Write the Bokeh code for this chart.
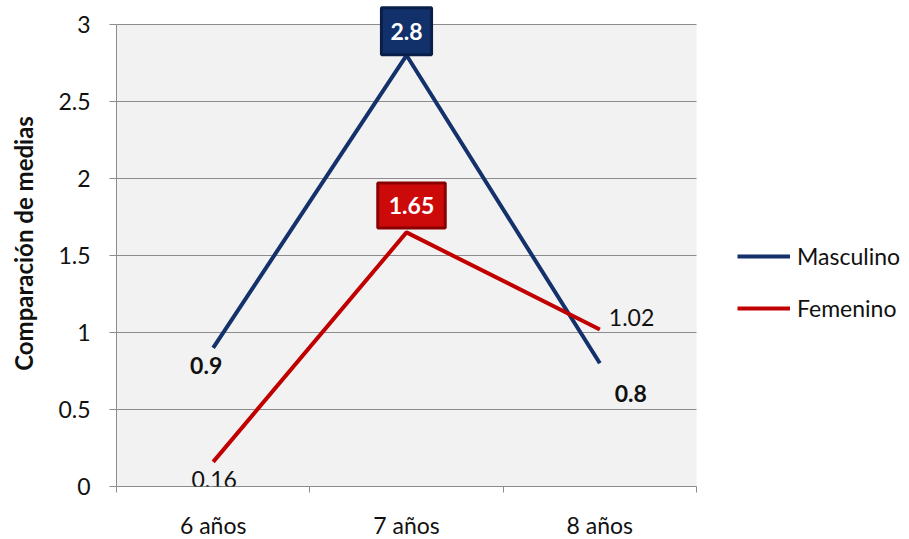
from bokeh.plotting import figure
from bokeh.models import Range1d, FixedTicker, Legend, LegendItem, Label, BoxAnnotation
from bokeh.embed import file_html
from bokeh.resources import INLINE

# Mean comparison by age group and sex
categories = ["6 años", "7 años", "8 años"]
masculino = [0.9, 2.8, 0.8]
femenino = [0.16, 1.65, 1.02]
y_ticks = [0, 0.5, 1, 1.5, 2, 2.5, 3]
y_max = 3

FONT = "Lato"
NAVY = "#15316c"
RED = "#c00000"
GRID = "#8c8c8c"
TEXT = "#111111"

WIDTH, HEIGHT = 909, 539
LEFT, TOP, BOTTOM = 116, 24, 53
PLOT_W = 580                       # width of the shaded plotting area
PLOT_H = HEIGHT - TOP - BOTTOM     # height of the shaded plotting area
FRAME_W = WIDTH - LEFT             # frame also hosts the legend on the right
FRAME_H = HEIGHT - BOTTOM          # ...and the value boxes above the top line
n = len(categories)

# category centres on a numeric axis so boundary ticks can be drawn
xs = [i + 0.5 for i in range(n)]

p = figure(frame_width=FRAME_W, frame_height=FRAME_H,
           output_backend="svg", toolbar_location=None,
           x_range=Range1d(0, n * FRAME_W / PLOT_W),
           y_range=Range1d(0, y_max * FRAME_H / PLOT_H),
           min_border=0, min_border_left=LEFT, min_border_right=0,
           min_border_top=0, min_border_bottom=BOTTOM)

p.background_fill_color = "white"
p.border_fill_color = "white"
p.outline_line_color = None

# shaded plotting area and horizontal gridlines, limited to the categories
p.add_layout(BoxAnnotation(left=0, right=n, bottom=0, top=y_max, level="underlay",
                           fill_color="#f2f2f2", fill_alpha=1, line_color=None))
p.xgrid.grid_line_color = None
p.ygrid.grid_line_color = None
p.segment(x0=[0] * len(y_ticks), x1=[n] * len(y_ticks), y0=y_ticks, y1=y_ticks,
          line_color=GRID, line_width=1)

# y axis
p.yaxis.bounds = (0, y_max)
p.yaxis.ticker = FixedTicker(ticks=y_ticks)
p.yaxis.major_label_overrides = {t: f"{t:g}" for t in y_ticks}
p.yaxis.minor_tick_line_color = None
p.yaxis.major_tick_out = 7
p.yaxis.major_tick_in = 0
p.yaxis.major_tick_line_color = GRID
p.yaxis.axis_line_color = GRID
p.yaxis.major_label_standoff = 19
p.yaxis.major_label_text_font = FONT
p.yaxis.major_label_text_font_size = "23px"
p.yaxis.major_label_text_color = TEXT
p.yaxis.axis_label = "Comparación de medias"
p.yaxis.axis_label_text_font = FONT
p.yaxis.axis_label_text_font_size = "24px"
p.yaxis.axis_label_text_font_style = "bold"
p.yaxis.axis_label_text_color = TEXT
p.yaxis.axis_label_standoff = 17

# x axis: labels at category centres, ticks at category boundaries
p.xaxis.bounds = (0, n)
p.xaxis.ticker = FixedTicker(ticks=xs, minor_ticks=list(range(n + 1)))
p.xaxis.major_label_overrides = {x: c for x, c in zip(xs, categories)}
p.xaxis.major_tick_line_color = None
p.xaxis.major_tick_out = 0
p.xaxis.major_tick_in = 0
p.xaxis.minor_tick_line_color = GRID
p.xaxis.minor_tick_out = 6
p.xaxis.minor_tick_in = 0
p.xaxis.axis_line_color = GRID
p.xaxis.major_label_standoff = 18
p.xaxis.major_label_text_font = FONT
p.xaxis.major_label_text_font_size = "23px"
p.xaxis.major_label_text_color = TEXT

r_m = p.line(xs, masculino, line_color=NAVY, line_width=4)
r_f = p.line(xs, femenino, line_color=RED, line_width=4)

legend = Legend(items=[LegendItem(label="Masculino", renderers=[r_m]),
                       LegendItem(label="Femenino", renderers=[r_f])],
                location=(621, 164), orientation="vertical",
                glyph_width=53, glyph_height=28, label_height=28,
                label_standoff=7, spacing=24, padding=10, margin=0,
                label_text_font=FONT, label_text_font_size="23px",
                label_text_color=TEXT,
                background_fill_alpha=0, border_line_color=None)
p.add_layout(legend)

# data labels: (series, index) -> style
plain = dict(text_font=FONT, text_font_size="23px", text_color=TEXT,
             text_align="center", text_baseline="middle")
label_styles = {
    ("m", 0): dict(x_offset=-7, y_offset=-18, text_font_style="bold"),
    ("m", 1): dict(x_offset=0, y_offset=24, text_font_style="bold",
                   text_color="white", background_fill_color="#12306a",
                   border_line_color="#0a1f48", border_line_width=3,
                   padding=(9, 15)),
    ("m", 2): dict(x_offset=31, y_offset=-30, text_font_style="bold"),
    ("f", 0): dict(x_offset=1, y_offset=-18),
    ("f", 1): dict(x_offset=5, y_offset=27, text_font_style="bold",
                   text_color="white", background_fill_color="#cc0a0a",
                   border_line_color="#8a0000", border_line_width=3,
                   padding=(11, 14)),
    ("f", 2): dict(x_offset=9, y_offset=12, text_align="left"),
}
for key, series in (("m", masculino), ("f", femenino)):
    for i, v in enumerate(series):
        style = dict(plain)
        style.update(label_styles[(key, i)])
        p.add_layout(Label(x=xs[i], y=v, text=f"{v:g}", x_units="data",
                           y_units="data", **style))

open("out.html", "w").write(file_html(p, INLINE))
